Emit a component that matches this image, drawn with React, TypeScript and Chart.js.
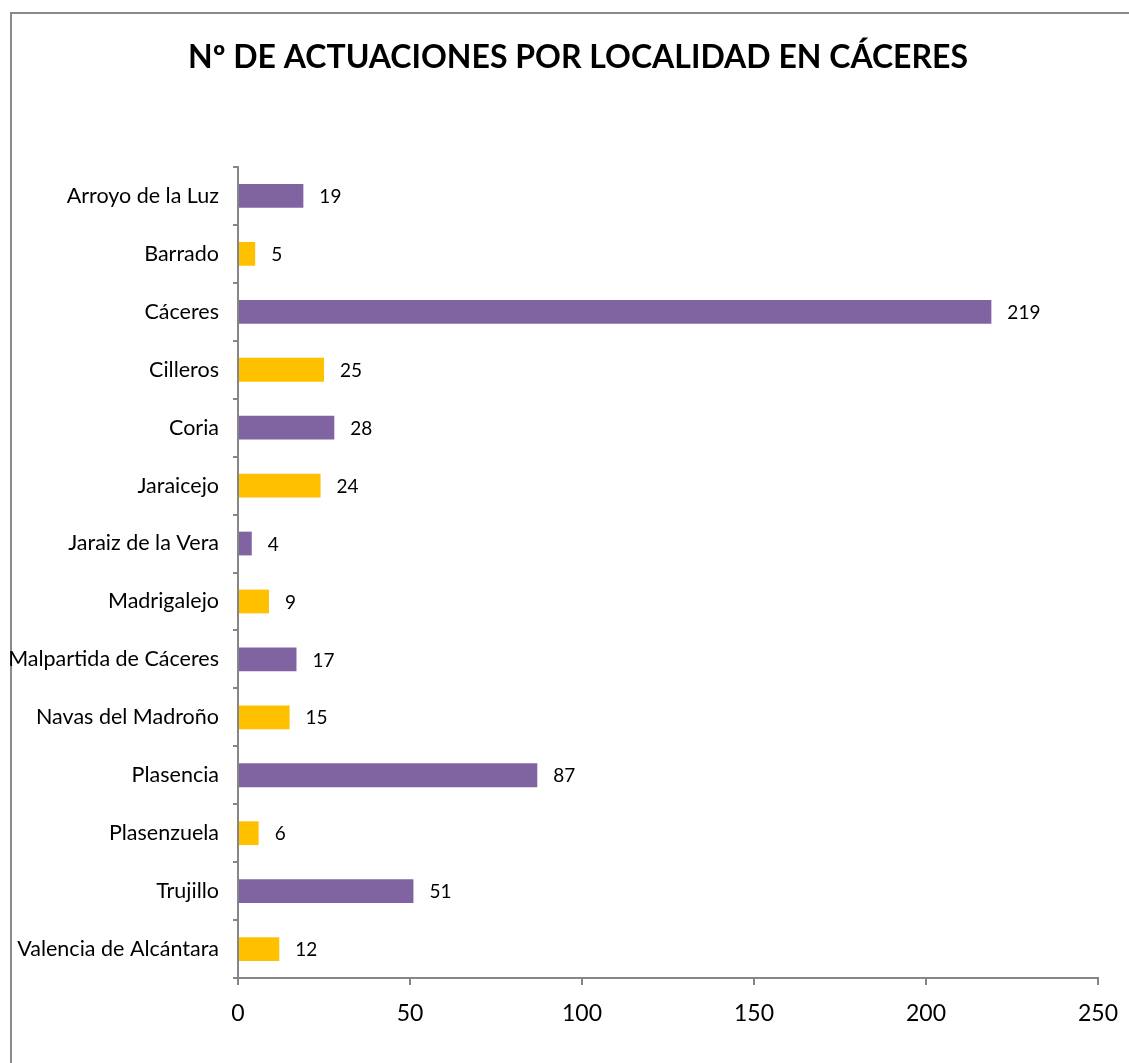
import React, { useEffect, useRef } from "react";
import { Chart, registerables } from "chart.js";

Chart.register(...registerables);

const TITLE = "Nº DE ACTUACIONES POR LOCALIDAD EN CÁCERES";
const categories = [
  "Arroyo de la Luz",
  "Barrado",
  "Cáceres",
  "Cilleros",
  "Coria",
  "Jaraicejo",
  "Jaraiz de la Vera",
  "Madrigalejo",
  "Malpartida de Cáceres",
  "Navas del Madroño",
  "Plasencia",
  "Plasenzuela",
  "Trujillo",
  "Valencia de Alcántara",
];
const values = [19, 5, 219, 25, 28, 24, 4, 9, 17, 15, 87, 6, 51, 12];
const xTicks = [0, 50, 100, 150, 200, 250];

const PURPLE = "#8064A2";
const GOLD = "#FFC000";
const AXIS = "#868686";
const FONT = "Lato, 'Open Sans', sans-serif";

export default function App() {
  const ref = useRef<HTMLCanvasElement | null>(null);

  useEffect(() => {
    if (!ref.current) return;
    const titlePlugin = {
      id: "customTitle",
      afterDraw(chart: any) {
        const ctx = chart.ctx;
        ctx.save();
        ctx.font = `bold 32px ${FONT}`;
        ctx.fillStyle = "#000";
        ctx.textAlign = "center";
        ctx.textBaseline = "middle";
        ctx.fillText(TITLE, 578, 58);
        ctx.restore();
      },
    };
    const labelPlugin = {
      id: "valueLabels",
      afterDatasetsDraw(chart: any) {
        const ctx = chart.ctx;
        const meta = chart.getDatasetMeta(0);
        ctx.save();
        ctx.font = `19px ${FONT}`;
        ctx.fillStyle = "#000";
        ctx.textAlign = "left";
        ctx.textBaseline = "middle";
        meta.data.forEach((bar: any, i: number) => {
          ctx.fillText(String(values[i]), bar.x + 16, bar.y + 1);
        });
        ctx.restore();
      },
    };
    const chart = new Chart(ref.current, {
      type: "bar",
      data: {
        labels: categories,
        datasets: [
          {
            data: values,
            backgroundColor: values.map((_, i) => (i % 2 === 0 ? PURPLE : GOLD)),
            barPercentage: 0.41,
            categoryPercentage: 1,
          },
        ],
      },
      options: {
        indexAxis: "y",
        responsive: false,
        animation: false,
        devicePixelRatio: 1,
        layout: { padding: { top: 167, right: 31, bottom: 25, left: 0 } },
        plugins: {
          legend: { display: false },
          title: { display: false },
          tooltip: { enabled: false },
        },
        scales: {
          x: {
            type: "linear",
            min: 0,
            max: 250,
            afterBuildTicks: (axis: any) => {
              axis.ticks = xTicks.map((v) => ({ value: v }));
            },
            afterFit: (axis: any) => {
              axis.height = 60;
              axis.paddingLeft = 0;
              axis.paddingRight = 0;
            },
            ticks: {
              font: { family: FONT, size: 23 },
              color: "#000",
              padding: 15,
            },
            grid: {
              drawOnChartArea: false,
              drawTicks: true,
              tickLength: 7,
              color: AXIS,
              lineWidth: 2,
            },
            border: { color: AXIS, width: 2 },
          },
          y: {
            afterFit: (axis: any) => {
              axis.width = 238;
              axis.paddingTop = 0;
              axis.paddingBottom = 0;
            },
            ticks: {
              font: { family: FONT, size: 21.5 },
              color: "#000",
              padding: 14,
            },
            grid: {
              drawOnChartArea: false,
              drawTicks: true,
              tickLength: 5,
              color: AXIS,
              lineWidth: 2,
              offset: true,
            },
            border: { color: AXIS, width: 2 },
          },
        },
      } as any,
      plugins: [titlePlugin, labelPlugin],
    });
    return () => chart.destroy();
  }, []);

  return (
    <div
      style={{
        position: "absolute",
        left: 0,
        top: 0,
        width: 1129,
        height: 1063,
        overflow: "hidden",
        background: "#fff",
      }}
    >
      <div
        style={{
          position: "absolute",
          left: 10,
          top: 12,
          width: 1140,
          height: 1100,
          borderTop: "2px solid #8a8a8a",
          borderLeft: "2px solid #8a8a8a",
        }}
      />
      <canvas
        ref={ref}
        width={1129}
        height={1063}
        style={{ position: "absolute", left: 0, top: 0 }}
      />
    </div>
  );
}
